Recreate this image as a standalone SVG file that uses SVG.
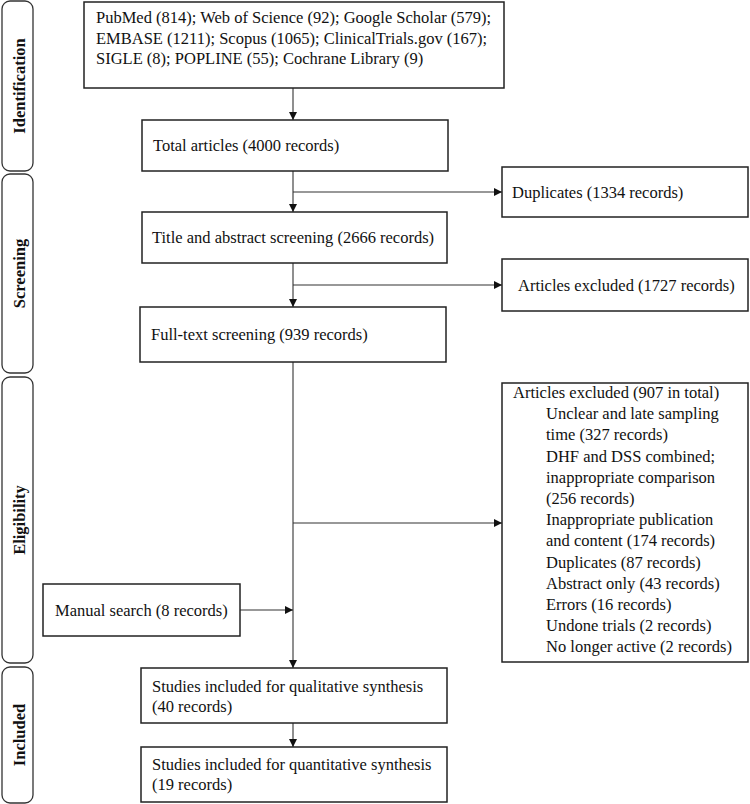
<svg xmlns="http://www.w3.org/2000/svg" width="750" height="804" viewBox="0 0 750 804">
<defs>
<marker id="ah" viewBox="0 0 10 10" refX="10" refY="5" markerWidth="9" markerHeight="8" markerUnits="userSpaceOnUse" orient="auto">
<path d="M0,0 L10,5 L0,10 Z" fill="#111"/>
</marker>
<style>
.box{fill:#fff;stroke:#222;stroke-width:1.5}
.phase{fill:#fff;stroke:#333;stroke-width:1.3}
.t{font-family:"Liberation Serif","Times New Roman",serif;font-size:16.5px;fill:#111}
.ph{font-family:"Liberation Serif","Times New Roman",serif;font-size:16.5px;font-weight:bold;fill:#111}
.c{fill:none;stroke:#333;stroke-width:1.1}
.ca{fill:none;stroke:#333;stroke-width:1.1;marker-end:url(#ah)}
</style>
</defs>
<rect width="750" height="804" fill="#fff"/>

<g id="phase-identification">
<rect class="phase" x="2" y="1" width="31" height="170" rx="8"/>
<text class="ph" transform="translate(24.5,86) rotate(-90)" text-anchor="middle">Identification</text>
</g>
<g id="phase-screening">
<rect class="phase" x="2" y="174" width="31" height="199" rx="8"/>
<text class="ph" transform="translate(24.5,273.5) rotate(-90)" text-anchor="middle">Screening</text>
</g>
<g id="phase-eligibility">
<rect class="phase" x="2" y="377" width="31" height="286" rx="8"/>
<text class="ph" transform="translate(24.5,520) rotate(-90)" text-anchor="middle">Eligibility</text>
</g>
<g id="phase-included">
<rect class="phase" x="2" y="667" width="31" height="136" rx="8"/>
<text class="ph" transform="translate(24.5,735) rotate(-90)" text-anchor="middle">Included</text>
</g>

<g id="connectors">
<line class="ca" x1="293" y1="88" x2="293" y2="120"/>
<line class="ca" x1="293" y1="171" x2="293" y2="212"/>
<line class="ca" x1="293" y1="263" x2="293" y2="307"/>
<line class="ca" x1="293" y1="362" x2="293" y2="668"/>
<line class="ca" x1="293" y1="723" x2="293" y2="747"/>
<line class="ca" x1="293" y1="192" x2="502" y2="192"/>
<line class="ca" x1="293" y1="285" x2="502" y2="285"/>
<line class="ca" x1="293" y1="523" x2="502" y2="523"/>
<line class="ca" x1="240" y1="610" x2="293" y2="610"/>
</g>

<g id="databases">
<rect class="box" x="84" y="2" width="420" height="86"/>
<text class="t" x="96" y="23">PubMed (814); Web of Science (92); Google Scholar (579);</text>
<text class="t" x="96" y="43.5">EMBASE (1211); Scopus (1065); ClinicalTrials.gov (167);</text>
<text class="t" x="96" y="64">SIGLE (8); POPLINE (55); Cochrane Library (9)</text>
</g>
<g id="total">
<rect class="box" x="142" y="120" width="306" height="51"/>
<text class="t" x="153" y="151">Total articles (4000 records)</text>
</g>
<g id="duplicates">
<rect class="box" x="502" y="167" width="246" height="50"/>
<text class="t" x="512" y="198">Duplicates (1334 records)</text>
</g>
<g id="title-abstract">
<rect class="box" x="142" y="212" width="305" height="51"/>
<text class="t" x="152" y="243">Title and abstract screening (2666 records)</text>
</g>
<g id="excluded-1727">
<rect class="box" x="502" y="259" width="246" height="52"/>
<text class="t" x="518" y="291">Articles excluded (1727 records)</text>
</g>
<g id="full-text">
<rect class="box" x="140" y="307" width="306" height="55"/>
<text class="t" x="151" y="340">Full-text screening (939 records)</text>
</g>
<g id="excluded-907">
<rect class="box" x="502" y="383" width="246" height="279"/>
<text class="t" x="513" y="398">Articles excluded (907 in total)</text>
<text class="t" x="546" y="419.2">Unclear and late sampling</text>
<text class="t" x="546" y="440.4">time (327 records)</text>
<text class="t" x="546" y="461.6">DHF and DSS combined;</text>
<text class="t" x="546" y="482.8">inappropriate comparison</text>
<text class="t" x="546" y="504">(256 records)</text>
<text class="t" x="546" y="525.2">Inappropriate publication</text>
<text class="t" x="546" y="546.4">and content (174 records)</text>
<text class="t" x="546" y="567.6">Duplicates (87 records)</text>
<text class="t" x="546" y="588.8">Abstract only (43 records)</text>
<text class="t" x="546" y="610">Errors (16 records)</text>
<text class="t" x="546" y="631.2">Undone trials (2 records)</text>
<text class="t" x="546" y="652.4">No longer active (2 records)</text>
</g>
<g id="manual-search">
<rect class="box" x="43" y="584" width="197" height="52"/>
<text class="t" x="55" y="616">Manual search (8 records)</text>
</g>
<g id="qualitative">
<rect class="box" x="141" y="668" width="306" height="55"/>
<text class="t" x="152" y="692">Studies included for qualitative synthesis</text>
<text class="t" x="152" y="712">(40 records)</text>
</g>
<g id="quantitative">
<rect class="box" x="141" y="747" width="306" height="55"/>
<text class="t" x="152" y="770">Studies included for quantitative synthesis</text>
<text class="t" x="152" y="790">(19 records)</text>
</g>
</svg>
